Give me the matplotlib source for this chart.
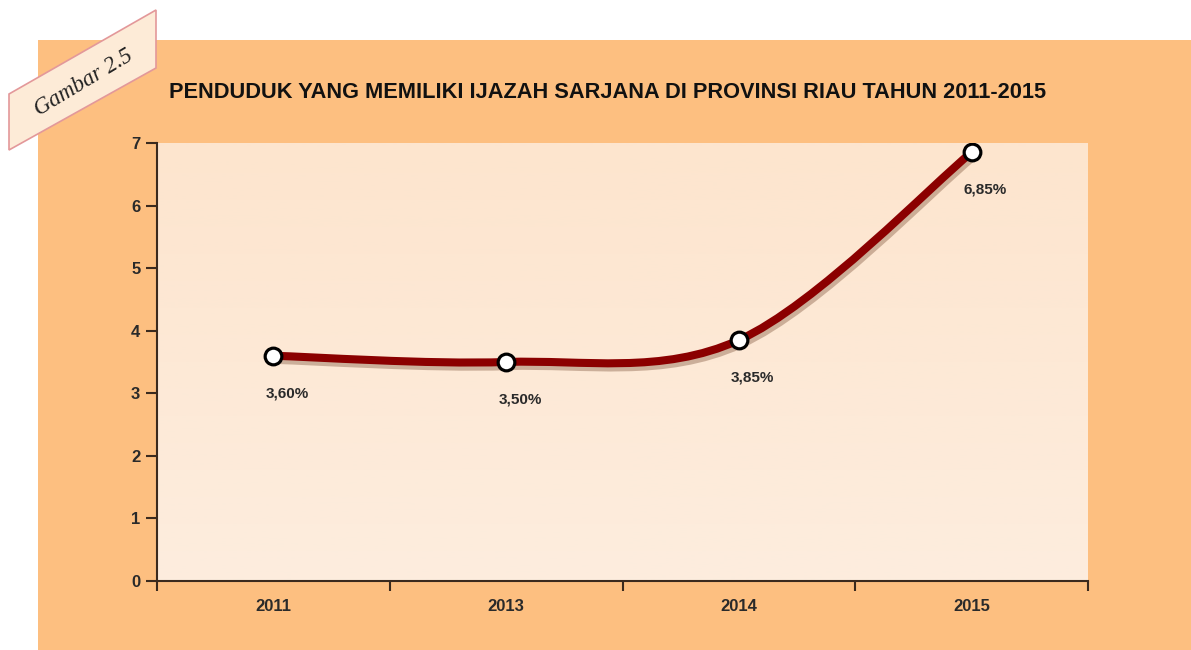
import matplotlib
matplotlib.use("Agg")
import matplotlib.pyplot as plt
import matplotlib.patheffects as pe
from matplotlib.path import Path
from matplotlib.patches import PathPatch, Polygon, Rectangle
import numpy as np

# ----------------------------------------------------
# Data
# ----------------------------------------------------

years = ["2011", "2013", "2014", "2015"]
values = [3.60, 3.50, 3.85, 6.85]
labels = ["3,60%", "3,50%", "3,85%", "6,85%"]
yticks = [0, 1, 2, 3, 4, 5, 6, 7]

title = "PENDUDUK YANG MEMILIKI IJAZAH SARJANA DI PROVINSI RIAU TAHUN 2011-2015"

# ----------------------------------------------------
# Colours
# ----------------------------------------------------

orange = "#FDBF80"
line_red = "#8B0000"
axis_col = "#3b2a1e"
text_col = "#2a2a2a"

plt.rcParams["font.family"] = ["Liberation Sans", "DejaVu Sans"]

fig = plt.figure(figsize=(11.91, 6.5), dpi=100)
fig.patch.set_facecolor("white")

# orange panel behind the chart
fig.patches.append(Rectangle((38 / 1191, 0), 1.0, 610 / 650,
                             transform=fig.transFigure, facecolor=orange,
                             edgecolor="none", zorder=-5))

ax = fig.add_axes([157 / 1191, 69 / 650, 931 / 1191, 438 / 650])
ax.set_facecolor("#FDEAD7")

# soft vertical gradient in the plot area
grad = np.linspace(0, 1, 64).reshape(-1, 1)
top_c = np.array([253, 229, 206]) / 255
bot_c = np.array([253, 237, 222]) / 255
img = top_c * (1 - grad[..., None]) + bot_c * grad[..., None]
ax.imshow(img, extent=[0, 1, 0, 1], transform=ax.transAxes,
          aspect="auto", zorder=0, interpolation="bilinear")

x = np.arange(len(years))
y = np.array(values)

# ----------------------------------------------------
# Smoothed line (cubic Bezier through the points)
# ----------------------------------------------------

verts = [(x[0], y[0])]
codes = [Path.MOVETO]
n = len(x)
for i in range(n - 1):
    p0 = np.array([x[max(i - 1, 0)], y[max(i - 1, 0)]])
    p1 = np.array([x[i], y[i]])
    p2 = np.array([x[i + 1], y[i + 1]])
    p3 = np.array([x[min(i + 2, n - 1)], y[min(i + 2, n - 1)]])
    c1 = p1 + (p2 - p0) / 6
    c2 = p2 - (p3 - p1) / 6
    verts += [tuple(c1), tuple(c2), tuple(p2)]
    codes += [Path.CURVE4] * 3

curve = PathPatch(Path(verts, codes), facecolor="none", edgecolor=line_red,
                  linewidth=5.8, capstyle="round", zorder=3)
curve.set_path_effects([
    pe.SimpleLineShadow(offset=(1.5, -3), shadow_color="#5a2a10", alpha=0.3),
    pe.Normal(),
])
ax.add_patch(curve)

ax.plot(x, y, "o", markersize=12, markerfacecolor="white",
        markeredgecolor="black", markeredgewidth=2.3, zorder=4)

for xi, yi, lab in zip(x, y, labels):
    ax.annotate(lab, (xi, yi), xytext=(10, -27), textcoords="offset points",
                ha="center", va="center", fontsize=11, fontweight="bold",
                color=text_col, zorder=5)

# ----------------------------------------------------
# Axes styling
# ----------------------------------------------------

ax.set_xlim(-0.5, n - 0.5)
ax.set_ylim(0, 7)

ax.set_yticks(yticks)
ax.set_yticklabels([str(t) for t in yticks], fontsize=12, fontweight="bold",
                   color=text_col)
ax.tick_params(axis="y", length=8, width=1.5, color=axis_col, pad=4)

ax.set_xticks(np.arange(-0.5, n, 1.0))
ax.set_xticklabels([])
ax.tick_params(axis="x", which="major", length=7, width=1.5, color=axis_col)
ax.set_xticks(x, minor=True)
ax.set_xticklabels(years, minor=True, fontsize=12, fontweight="bold",
                   color=text_col)
ax.tick_params(axis="x", which="minor", length=0, pad=13)

for side in ["top", "right"]:
    ax.spines[side].set_visible(False)
for side in ["left", "bottom"]:
    ax.spines[side].set_color(axis_col)
    ax.spines[side].set_linewidth(1.5)

# ----------------------------------------------------
# Title and "Gambar" tag
# ----------------------------------------------------

fig.text(608 / 1191, 1 - 93 / 650, title, ha="center", va="center",
         fontsize=15.7, fontweight="bold", color="#111111")

tag_px = [(9, 94), (156, 10), (156, 68), (9, 150)]
tag = Polygon([(px / 1191, 1 - py / 650) for px, py in tag_px], closed=True,
              transform=fig.transFigure, facecolor="#FDEBD7",
              edgecolor="#E3989A", linewidth=1.2, zorder=5)
fig.patches.append(tag)
fig.text(84 / 1191, 1 - 83 / 650, "Gambar 2.5", ha="center", va="center",
         rotation=31, fontsize=16.5, style="italic",
         family=["Liberation Serif", "DejaVu Serif"], color="#222222",
         zorder=6)

plt.savefig("out.png", dpi=100)
